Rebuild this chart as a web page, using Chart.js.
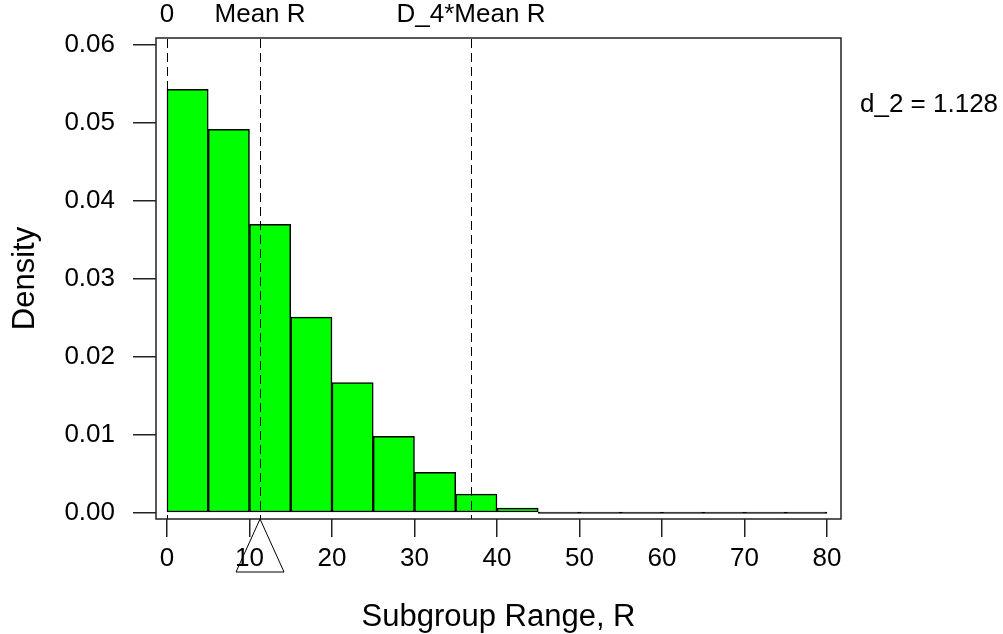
<!DOCTYPE html>
<html>
<head>
<meta charset="utf-8">
<script src="https://cdn.jsdelivr.net/npm/chart.js@4.4.1/dist/chart.umd.min.js"></script>
<style>
  html, body { margin: 0; padding: 0; background: #fff; }
  #wrap { width: 1003px; height: 634px; position: relative; }
</style>
</head>
<body>
<div id="wrap"><canvas id="rangeChart" width="1003" height="634"></canvas></div>
<script>
// histogram bins (width 5) and their densities
const binCenters = [2.5, 7.5, 12.5, 17.5, 22.5, 27.5, 32.5, 37.5, 42.5, 47.5, 52.5, 57.5, 62.5, 67.5, 72.5, 77.5];
const density = [0.0543, 0.0492, 0.0370, 0.0251, 0.0167, 0.0098, 0.0052, 0.0024, 0.0006, 0, 0, 0, 0, 0, 0, 0];
const xTicks = [0, 10, 20, 30, 40, 50, 60, 70, 80];
const yTicks = [0, 0.01, 0.02, 0.03, 0.04, 0.05, 0.06];
// reference lines: 0, mean R, D4 * mean R
const refValues = [0, 11.28, 36.85];
const refLabels = ['0', 'Mean R', 'D_4*Mean R'];
const meanR = 11.28;
const noteText = 'd_2 = 1.128';

const FONT = 'Liberation Sans, Arial, sans-serif';

const refPlugin = {
  id: 'refPlugin',
  afterDatasetsDraw(chart) {
    const { ctx, chartArea: a, scales: { x } } = chart;
    ctx.save();
    // box around plot
    ctx.strokeStyle = '#222';
    ctx.lineWidth = 1.5;
    ctx.setLineDash([]);
    ctx.strokeRect(a.left, a.top, a.right - a.left, a.bottom - a.top);

    // dashed lines + labels above
    ctx.lineWidth = 1;
    ctx.strokeStyle = '#000';
    ctx.fillStyle = '#000';
    ctx.font = '26px ' + FONT;
    ctx.textAlign = 'center';
    ctx.textBaseline = 'middle';
    refValues.forEach((v, i) => {
      const px = x.getPixelForValue(v);
      const lx = Math.round(px) + 0.5;
      ctx.setLineDash([9, 5]);
      ctx.beginPath();
      ctx.moveTo(lx, a.top + 1);
      ctx.lineTo(lx, a.bottom);
      ctx.stroke();
      ctx.fillText(refLabels[i], px, 15);
    });
    ctx.setLineDash([]);

    // triangle marker at mean R below the axis
    const mx = x.getPixelForValue(meanR);
    ctx.lineWidth = 1;
    ctx.beginPath();
    ctx.moveTo(mx, a.bottom);
    ctx.lineTo(mx + 24, a.bottom + 53);
    ctx.lineTo(mx - 24, a.bottom + 53);
    ctx.closePath();
    ctx.stroke();

    // note on the right
    ctx.textAlign = 'left';
    ctx.fillText(noteText, a.right + 19, 105);
    ctx.restore();
  }
};

new Chart(document.getElementById('rangeChart'), {
  type: 'bar',
  data: {
    datasets: [{
      label: 'Density',
      data: binCenters.map((c, i) => ({ x: c, y: density[i] })),
      // empty bins collapse to a flat black outline
      backgroundColor: c => (c.raw && c.raw.y === 0 ? '#000' : '#00FF00'),
      borderColor: '#000',
      borderWidth: 1.5,
      borderSkipped: false,
      minBarLength: 1.5,
      barPercentage: 1,
      categoryPercentage: 1
    }]
  },
  options: {
    responsive: false,
    animation: false,
    layout: { padding: { left: 0, top: 38, right: 162, bottom: 0 } },
    plugins: { legend: { display: false }, tooltip: { enabled: false } },
    scales: {
      x: {
        type: 'linear',
        offset: false,
        min: -1.33,
        max: 81.7,
        afterBuildTicks: s => { s.ticks = xTicks.map(v => ({ value: v })); },
        afterFit: s => { s.height = 115; },
        border: { display: false },
        grid: { offset: false, drawOnChartArea: false, drawTicks: true, tickLength: 18, color: '#222', lineWidth: 1.5 },
        ticks: { color: '#000', font: { family: FONT, size: 26 }, padding: 6, maxRotation: 0 },
        title: { display: true, text: 'Subgroup Range, R', color: '#000', font: { family: FONT, size: 31, lineHeight: 1 }, padding: { top: 0, bottom: 1 } }
      },
      y: {
        min: -0.0008,
        max: 0.0609,
        afterBuildTicks: s => { s.ticks = yTicks.map(v => ({ value: v })); },
        afterFit: s => { s.width = 156; },
        border: { display: false },
        grid: { drawOnChartArea: false, drawTicks: true, tickLength: 23, color: '#222', lineWidth: 1.5 },
        ticks: { color: '#000', font: { family: FONT, size: 26 }, padding: 18, callback: v => v.toFixed(2) },
        title: { display: true, text: 'Density', color: '#000', font: { family: FONT, size: 31, lineHeight: 1 }, padding: { top: 10, bottom: 0 } }
      }
    }
  },
  plugins: [refPlugin]
});
</script>
</body>
</html>
